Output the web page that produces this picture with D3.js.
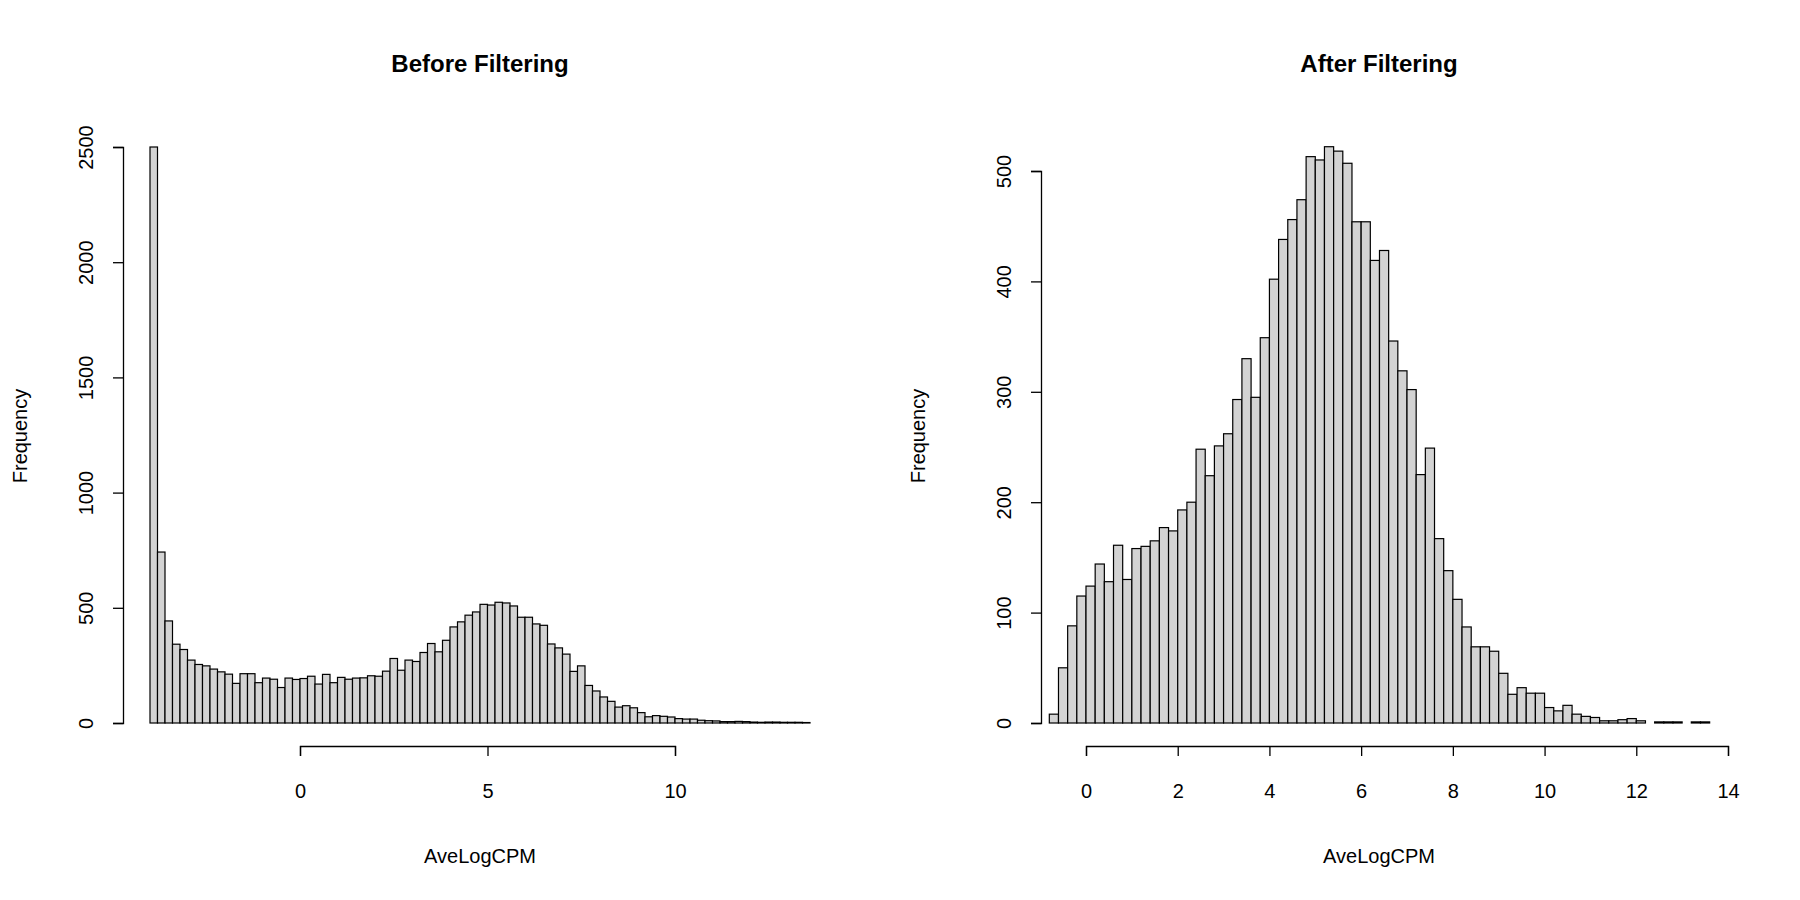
<!DOCTYPE html>
<html>
<head>
<meta charset="utf-8">
<script src="https://cdn.jsdelivr.net/npm/d3@7"></script>
<style>
  body { margin: 0; background: #fff; }
  text { font-family: "Liberation Sans", Arial, sans-serif; fill: #000; }
</style>
</head>
<body>
<svg id="chart" width="1800" height="900"></svg>
<script>
// histogram counts, bins of width 0.2
var beforeStart = -4.0;
var beforeCounts = [2500, 742, 443, 342, 319, 273, 254, 248, 234, 222,
  212, 172, 214, 214, 175, 195, 190, 154, 195, 189,
  193, 203, 169, 211, 175, 198, 190, 195, 196, 205,
  203, 225, 280, 229, 273, 267, 306, 345, 309, 359,
  417, 439, 468, 482, 515, 512, 524, 521, 508, 459,
  459, 430, 424, 343, 326, 299, 224, 248, 163, 139,
  113, 94, 69, 75, 66, 45, 27, 32, 29, 26,
  19, 17, 17, 12, 10, 9, 6, 6, 7, 6,
  4, 3, 4, 4, 3, 3, 3, 2];

var afterStart = -0.8;
var afterCounts = [8, 50, 88, 115, 124, 144, 128, 161, 130, 158,
  160, 165, 177, 174, 193, 200, 248, 224, 251, 262,
  293, 330, 295, 349, 402, 438, 456, 474, 513, 510,
  522, 518, 507, 454, 454, 419, 428, 346, 319, 302,
  225, 249, 167, 138, 112, 87, 69, 69, 65, 45,
  26, 32, 27, 27, 14, 11, 16, 8, 6, 5,
  2, 2, 3, 4, 2, 0, 1, 1, 1, 0, 1, 1];

var binWidth = 0.2;
var beforeXTicks = [0, 5, 10];
var afterXTicks = [0, 2, 4, 6, 8, 10, 12, 14];
var beforeYTicks = [0, 500, 1000, 1500, 2000, 2500];
var afterYTicks = [0, 100, 200, 300, 400, 500];

var svg = d3.select("#chart");

function drawPanel(opt) {
  var g = svg.append("g");
  var x = d3.scaleLinear().domain(opt.xDomain).range(opt.xRange);
  var y = d3.scaleLinear().domain(opt.yDomain).range([723, opt.yTop]);

  var bins = opt.counts.map(function(c, i) {
    return { x0: opt.start + i * binWidth, x1: opt.start + (i + 1) * binWidth, n: c };
  });

  g.selectAll("rect").data(bins).enter().append("rect")
    .attr("x", function(d) { return x(d.x0); })
    .attr("width", function(d) { return x(d.x1) - x(d.x0); })
    .attr("y", function(d) { return y(d.n); })
    .attr("height", function(d) { return y(0) - y(d.n); })
    .attr("fill", "#d3d3d3")
    .attr("stroke", "#000")
    .attr("stroke-width", 1.2);

  // x axis
  var xa = g.append("g").attr("transform", "translate(0,746)")
    .call(d3.axisBottom(x).tickValues(opt.xTicks).tickSize(10).tickPadding(28).tickFormat(d3.format("d")));
  // y axis
  var ya = g.append("g").attr("transform", "translate(" + opt.yAxisX + ",0)")
    .call(d3.axisLeft(y).tickValues(opt.yTicks).tickSize(10).tickFormat(d3.format("d")));
  ya.selectAll(".tick text")
    .attr("transform", "rotate(-90)")
    .attr("x", 0).attr("y", -30).attr("dy", 0)
    .style("text-anchor", "middle");

  [xa, ya].forEach(function(a) {
    a.select(".domain").attr("stroke-width", 1.3);
    a.selectAll(".tick line").attr("stroke-width", 1.3);
    a.selectAll(".tick text").style("font-size", "20px").style("font-family", "Liberation Sans, Arial, sans-serif");
  });

  g.append("text").attr("x", opt.titleX).attr("y", 72)
    .attr("text-anchor", "middle").style("font-size", "24px").style("font-weight", "bold")
    .text(opt.title);
  g.append("text").attr("x", opt.titleX).attr("y", 863)
    .attr("text-anchor", "middle").style("font-size", "20px").text("AveLogCPM");
  g.append("text").attr("transform", "translate(" + opt.ylabX + ",436) rotate(-90)")
    .attr("text-anchor", "middle").style("font-size", "20px").text("Frequency");
}

drawPanel({
  counts: beforeCounts, start: beforeStart,
  xDomain: [0, 10], xRange: [300, 675],
  yDomain: [0, 2500], yTop: 147,
  xTicks: beforeXTicks, yTicks: beforeYTicks,
  yAxisX: 123, titleX: 480, ylabX: 27, title: "Before Filtering"
});

drawPanel({
  counts: afterCounts, start: afterStart,
  xDomain: [0, 14], xRange: [1086, 1728],
  yDomain: [0, 500], yTop: 171,
  xTicks: afterXTicks, yTicks: afterYTicks,
  yAxisX: 1041, titleX: 1379, ylabX: 925, title: "After Filtering"
});
</script>
</body>
</html>
